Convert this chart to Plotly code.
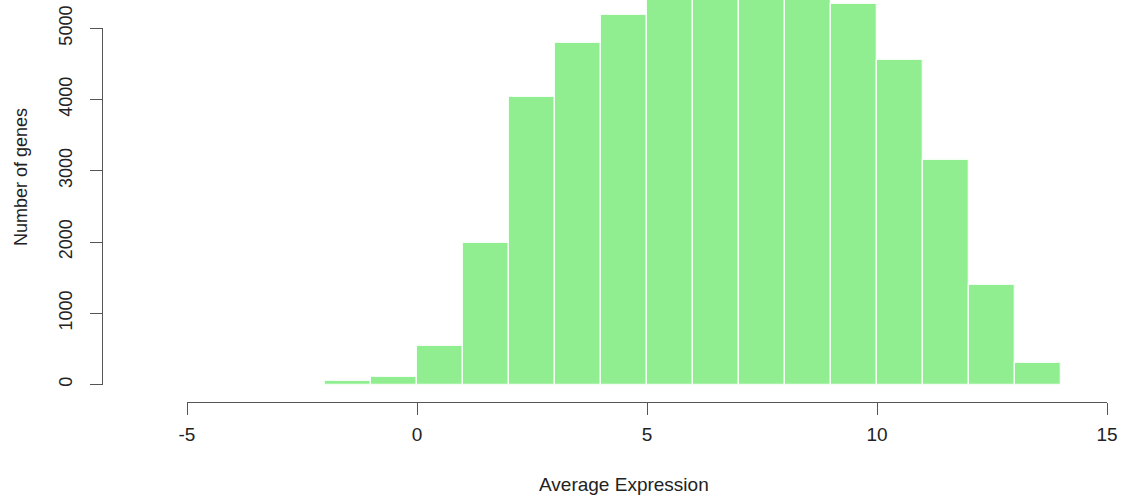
import plotly.graph_objects as go

# Histogram data (bin left edges, bin width 1) and counts
bin_left = [-2, -1, 0, 1, 2, 3, 4, 5, 6, 7, 8, 9, 10, 11, 12, 13]
counts = [45, 108, 537, 1990, 4039, 4792, 5189, 5650, 5780, 5720, 5480, 5339, 4558, 3155, 1402, 304]
x_ticks = [-5, 0, 5, 10, 15]
y_ticks = [0, 1000, 2000, 3000, 4000, 5000]

W, H = 1131, 502
FONT = "Liberation Sans, Arial, Helvetica, sans-serif"
TXT = "#222222"
AX = "#555555"

y0_px = 384.5   # pixel row of y=0
y5k_px = 28.3   # pixel row of y=5000
ymax = 5000 * y0_px / (y0_px - y5k_px)

fig = go.Figure()
fig.add_trace(go.Bar(
    x=bin_left, y=counts, width=1, offset=0,
    marker=dict(color="#90EE90", line=dict(color="#F4FFF4", width=1.3)),
    showlegend=False, hoverinfo="skip",
))

fig.update_layout(
    width=W, height=H,
    margin=dict(l=0, r=0, t=0, b=0),
    paper_bgcolor="white", plot_bgcolor="white",
    font=dict(family=FONT, size=18, color=TXT),
    bargap=0,
    xaxis=dict(
        domain=[187 / W, 1107 / W], range=[-5, 15],
        anchor="free", position=(H - 401.5) / H,
        tickvals=x_ticks, ticktext=[str(v) for v in x_ticks],
        ticks="outside", ticklen=12, tickwidth=1, tickcolor=AX,
        ticklabelstandoff=4,
        showline=True, linecolor=AX, linewidth=1,
        showgrid=False, zeroline=False, automargin=False,
        tickfont=dict(family=FONT, size=19, color=TXT),
    ),
    yaxis=dict(
        domain=[(H - y0_px) / H, 1], range=[0, ymax],
        anchor="free", position=102.5 / W,
        tickvals=y_ticks, ticktext=[str(v) for v in y_ticks],
        ticks="outside", ticklen=13, tickwidth=1, tickcolor=AX,
        tickangle=-90, ticklabelstandoff=10,
        showline=False, showgrid=False, zeroline=False, automargin=False,
        tickfont=dict(family=FONT, size=18, color=TXT),
    ),
    shapes=[dict(type="line", xref="paper", yref="y",
                 x0=102.5 / W, x1=102.5 / W, y0=0, y1=5000,
                 line=dict(color=AX, width=1))],
    annotations=[
        dict(text="Average Expression", xref="paper", yref="paper",
             x=624.5 / W, y=(H - 484) / H, showarrow=False,
             xanchor="center", yanchor="middle",
             font=dict(family=FONT, size=19, color=TXT)),
        dict(text="Number of genes", xref="paper", yref="paper",
             x=21 / W, y=(H - 177) / H, showarrow=False, textangle=-90,
             xanchor="center", yanchor="middle",
             font=dict(family=FONT, size=18, color=TXT)),
    ],
)

fig.write_html("out.html", config={"displayModeBar": False},
               post_script="document.body.style.margin='0px';document.body.style.overflow='hidden';")
